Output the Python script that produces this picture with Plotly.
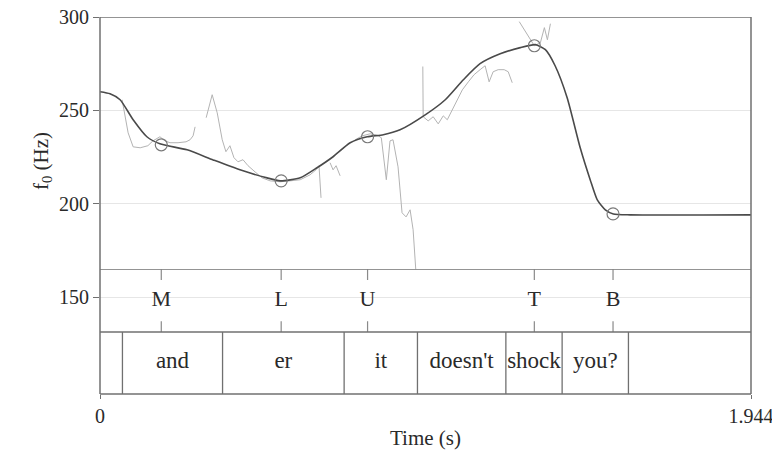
import plotly.graph_objects as go

# ---------------- data ----------------
# smoothed (stylized) f0 contour: time (s), f0 (Hz)
smooth_t = [0.000, 0.030, 0.060, 0.099, 0.140, 0.179, 0.260, 0.338, 0.418, 0.499,
            0.538, 0.598, 0.648, 0.696, 0.747, 0.798, 0.846, 0.896, 0.971, 1.031,
            1.085, 1.135, 1.195, 1.255, 1.300, 1.330, 1.359, 1.395, 1.434, 1.464,
            1.485, 1.509, 1.533, 1.583, 1.944]
smooth_f0 = [260.0, 258.9, 255.7, 245.0, 235.9, 232.1, 228.9, 223.5, 218.2, 213.9,
             212.3, 213.9, 219.3, 225.2, 232.7, 235.9, 237.0, 239.6, 247.6, 255.7,
             266.4, 275.0, 280.3, 283.6, 285.2, 282.5, 273.9, 256.8, 230.0, 212.8,
             202.1, 196.8, 194.6, 194.1, 194.1]

# raw f0 track (None = unvoiced gap)
raw_t = [0.066, 0.075, 0.084, 0.099, 0.120, 0.143, 0.158, 0.179, 0.194, 0.209,
         0.233, 0.257, 0.269, 0.278, 0.284, None,
         0.317, 0.335, 0.350, 0.365, 0.376, 0.388, 0.400, 0.412, 0.427, 0.442,
         0.463, 0.484, 0.508, 0.538, 0.568, 0.598, 0.627, 0.645, 0.654, 0.660, None,
         0.687, 0.696, 0.705, 0.717, None,
         0.762, 0.783, 0.807, 0.831, 0.840, 0.846, 0.855, 0.866, 0.875, 0.890,
         0.902, 0.914, 0.926, 0.935, 0.944, 0.947, None,
         0.964, 0.965, 0.980, 0.995, 1.010, 1.025, 1.037, 1.052, 1.067, 1.082,
         1.100, 1.117, 1.135, 1.150, 1.162, 1.174, 1.189, 1.207, 1.219, 1.231, None,
         1.252, 1.276, 1.297, 1.315, 1.327, 1.336, 1.345]
raw_f0 = [255.7, 247.7, 238.0, 230.5, 230.0, 231.1, 233.7, 235.9, 233.7, 232.7,
          232.7, 233.2, 234.3, 236.4, 241.2, None,
          246.1, 258.4, 248.7, 234.3, 227.9, 231.1, 224.7, 222.5, 223.6, 220.4,
          217.1, 213.9, 212.3, 211.8, 212.3, 212.9, 215.5, 218.2, 220.4, 203.2, None,
          222.0, 218.2, 220.4, 215.0, None,
          234.3, 236.4, 237.5, 236.4, 235.4, 225.2, 212.9, 233.7, 234.3, 219.8,
          195.2, 193.0, 196.8, 186.1, 163.6, 154.0, None,
          273.5, 246.6, 244.4, 246.6, 242.8, 247.1, 245.0, 250.3, 255.7, 261.0,
          265.3, 269.1, 271.8, 273.9, 265.3, 270.7, 271.8, 271.8, 270.7, 264.8, None,
          297.5, 290.5, 284.6, 286.2, 294.3, 287.8, 296.4]

# tonal targets
tone_labels = ["M", "L", "U", "T", "B"]
tone_t = [0.183, 0.541, 0.799, 1.297, 1.532]
tone_f0 = [231.6, 212.3, 235.9, 284.6, 194.6]

# word tier
word_bounds = [0.0, 0.067, 0.366, 0.729, 0.948, 1.212, 1.380, 1.578, 1.944]
word_labels = ["", "and", "er", "it", "doesn't", "shock", "you?", ""]

x_ticks = [0, 1.944]
x_ticktext = ["0", "1.944"]
y_ticks_f0 = [200, 250, 300]
y_ticks_tier = [150]

# ---------------- layout constants ----------------
F0_MIN, F0_MAX = 165, 300
TIER_MIN, TIER_SPLIT = 98.2, 131.4
TONE_LABEL_Y = 148.5
WORD_LABEL_Y = 115.4
TICK_LEN_HZ = 5.8
SPLIT = 0.331

FONT = "Liberation Serif"
FRAME = "#707070"
GRID = "#e6e6e6"
TXT = "#2a2a2a"

fig = go.Figure()

fig.add_trace(go.Scatter(x=raw_t, y=raw_f0, mode="lines", xaxis="x", yaxis="y",
                         line=dict(color="#b3b3b3", width=1), connectgaps=False,
                         hoverinfo="skip", showlegend=False))
fig.add_trace(go.Scatter(x=smooth_t, y=smooth_f0, mode="lines", xaxis="x", yaxis="y",
                         line=dict(color="#4a4a4a", width=1.6, shape="spline", smoothing=0.6),
                         showlegend=False))
fig.add_trace(go.Scatter(x=tone_t, y=tone_f0, mode="markers", xaxis="x", yaxis="y",
                         marker=dict(symbol="circle-open", size=12, color="#7a7a7a",
                                     line=dict(width=1.2, color="#7a7a7a")),
                         showlegend=False))

# tone tier tick marks
tx, ty = [], []
for t in tone_t:
    tx += [t, t, None, t, t, None]
    ty += [F0_MIN, F0_MIN - TICK_LEN_HZ, None, TIER_SPLIT, TIER_SPLIT + TICK_LEN_HZ, None]
fig.add_trace(go.Scatter(x=tx, y=ty, mode="lines", xaxis="x", yaxis="y2",
                         line=dict(color="#8a8a8a", width=1.2), hoverinfo="skip",
                         showlegend=False))
fig.add_trace(go.Scatter(x=tone_t, y=[TONE_LABEL_Y] * len(tone_t), mode="text",
                         text=tone_labels, xaxis="x", yaxis="y2",
                         textfont=dict(family=FONT, size=22, color=TXT),
                         showlegend=False))

# word tier boundaries and labels
wx, wy = [], []
for b in word_bounds[1:-1]:
    wx += [b, b, None]
    wy += [TIER_MIN, TIER_SPLIT, None]
fig.add_trace(go.Scatter(x=wx, y=wy, mode="lines", xaxis="x", yaxis="y2",
                         line=dict(color=FRAME, width=1.3), hoverinfo="skip",
                         showlegend=False))
mids = [(a + b) / 2 for a, b in zip(word_bounds[:-1], word_bounds[1:])]
fig.add_trace(go.Scatter(x=mids, y=[WORD_LABEL_Y] * len(mids), mode="text",
                         text=word_labels, xaxis="x", yaxis="y2",
                         textfont=dict(family=FONT, size=23, color=TXT),
                         showlegend=False))

shapes = [
    dict(type="line", xref="paper", yref="paper", x0=0, x1=0, y0=0, y1=1,
         line=dict(color=FRAME, width=1.5)),
    dict(type="line", xref="paper", yref="paper", x0=1, x1=1, y0=0, y1=1,
         line=dict(color=FRAME, width=1.5)),
    dict(type="line", xref="paper", yref="paper", x0=0, x1=1, y0=0, y1=0,
         line=dict(color=FRAME, width=1.5)),
    dict(type="line", xref="paper", yref="y", x0=0, x1=1, y0=F0_MAX, y1=F0_MAX,
         line=dict(color=FRAME, width=1.5)),
    dict(type="line", xref="paper", yref="y2", x0=0, x1=1, y0=F0_MIN, y1=F0_MIN,
         line=dict(color=FRAME, width=1.4)),
    dict(type="line", xref="paper", yref="y2", x0=0, x1=1, y0=TIER_SPLIT, y1=TIER_SPLIT,
         line=dict(color=FRAME, width=1.4)),
]

# the page body has an 8px margin; the figure is sized to compensate
fig.update_layout(
    width=772, height=445,
    margin=dict(l=92, r=29, t=9, b=59, autoexpand=False),
    paper_bgcolor="white", plot_bgcolor="white",
    font=dict(family=FONT, size=20, color=TXT),
    shapes=shapes,
    xaxis=dict(domain=[0, 1], anchor="y2", range=[0, 1.944], automargin=False,
               tickvals=x_ticks, ticktext=x_ticktext, ticks="outside", ticklen=4,
               tickcolor=FRAME, showgrid=False, zeroline=False, showline=False,
               ticklabeloverflow="allow",
               tickfont=dict(family=FONT, size=20, color=TXT)),
    yaxis=dict(domain=[SPLIT, 1], anchor="x", range=[F0_MIN, F0_MAX], automargin=False,
               tickvals=y_ticks_f0, ticks="outside", ticklen=6, tickcolor=FRAME,
               showgrid=True, gridcolor=GRID, gridwidth=1, zeroline=False,
               showline=False, ticklabeloverflow="allow",
               tickfont=dict(family=FONT, size=20, color=TXT)),
    yaxis2=dict(domain=[0, SPLIT], anchor="x", range=[TIER_MIN, F0_MIN], automargin=False,
                tickvals=y_ticks_tier, ticks="outside", ticklen=6, tickcolor=FRAME,
                showgrid=True, gridcolor=GRID, gridwidth=1, zeroline=False,
                showline=False, ticklabeloverflow="allow",
                tickfont=dict(family=FONT, size=20, color=TXT)),
    annotations=[
        dict(text="f<sub>0</sub> (Hz)", xref="paper", yref="paper",
             x=-0.089, y=0.618, textangle=-90, showarrow=False,
             xanchor="center", yanchor="middle",
             font=dict(family=FONT, size=21, color=TXT)),
        dict(text="Time (s)", xref="paper", yref="paper",
             x=0.5, y=-0.116, showarrow=False, xanchor="center", yanchor="middle",
             font=dict(family=FONT, size=21, color=TXT)),
    ],
)

fig.write_html("out.html")
